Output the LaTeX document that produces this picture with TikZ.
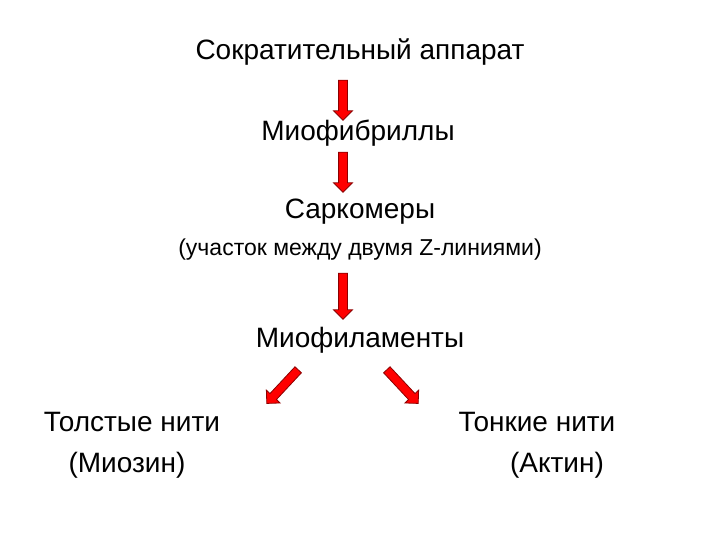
\documentclass[tikz,border=0pt]{standalone}
\usepackage{fontspec}
\setmainfont{Liberation Sans}
\usetikzlibrary{shapes.arrows}
\begin{document}
\begin{tikzpicture}[x=1pt,y=-1pt,
  lbl/.style={font=\fontsize{28}{32}\selectfont, inner sep=0pt},
  sm/.style={font=\fontsize{23}{27}\selectfont, inner sep=0pt},
  blk/.style={single arrow, draw=red!55!black, fill=red, line width=0.8pt,
    text height=4pt, text depth=4pt, text width=0pt,
    minimum width=18pt, single arrow head extend=5pt, single arrow tip angle=90, inner sep=0pt}]
\useasboundingbox (0,0) rectangle (720,540);
\node[lbl] (t1) at (360,52) {Сократительный аппарат};
\node[lbl] (t2) at (358,133) {Миофибриллы};
\node[lbl] (t3) at (360,212) {Саркомеры};
\node[sm] (t3b) at (360,250) {(участок между двумя Z-линиями)};
\node[lbl] (t4) at (360,340) {Миофиламенты};
\node[lbl] (l1) at (132,422) {Толстые нити};
\node[lbl] (l2) at (127,465) {(Миозин)};
\node[lbl] (r1) at (537,422) {Тонкие нити};
\node[lbl] (r2) at (557,465) {(Актин)};
\node[blk, minimum height=40pt, rotate=-90] (a1) at (343,98) {};
\node[blk, minimum height=40pt, rotate=-90] (a2) at (343,170) {};
\node[blk, minimum height=46pt, rotate=-90] (a3) at (343,294) {};
\node[blk, minimum height=46pt, rotate=-133] (a4) at (284,385) {};
\node[blk, minimum height=46pt, rotate=-47] (a5) at (401,385) {};
\end{tikzpicture}
\end{document}
